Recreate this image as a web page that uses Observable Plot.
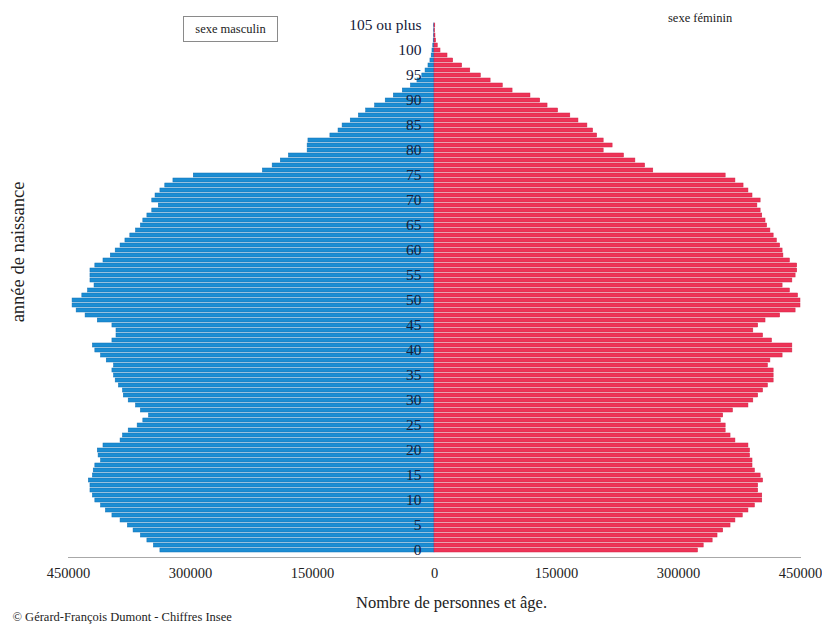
<!DOCTYPE html>
<html>
<head>
<meta charset="utf-8">
<script src="https://cdn.jsdelivr.net/npm/d3@7"></script>
<script src="https://cdn.jsdelivr.net/npm/@observablehq/plot@0.6"></script>
<style>
  html, body { margin: 0; padding: 0; background: #fff; }
  #wrap { position: relative; width: 822px; height: 625px; font-family: "Liberation Serif", "Times New Roman", serif; }
  .leg { position: absolute; font-size: 12.5px; color: #222; line-height: 1; }
  #legM { left: 183px; top: 16px; width: 93px; height: 24px; border: 1px solid #8a8a8a; display: flex; align-items: center; justify-content: center; }
  #legF { left: 668px; top: 12px; }
</style>
</head>
<body>
<div id="wrap">
  <div id="chart"></div>
  <div class="leg" id="legM">sexe masculin</div>
  <div class="leg" id="legF">sexe féminin</div>
</div>
<script>
// Ages 0 .. 105 (105 = "105 ou plus")
const ages = d3.range(0, 106);

// Males, persons per age
const male = [
  337000, 345000, 353000, 361000, 370000, 377000, 386000, 396000, 404000, 410000,
  417000, 420000, 423000, 423000, 425000, 420000, 419000, 417000, 410000, 413000,
  414000, 407000, 386000, 383000, 376000, 365000, 358000, 351000, 361000, 367000,
  376000, 382000, 383000, 388000, 392000, 394000, 396000, 394000, 403000, 410000,
  417000, 420000, 396000, 391000, 391000, 396000, 414000, 429000, 440000, 445000,
  445000, 433000, 426000, 418000, 423000, 423000, 423000, 417000, 407000, 398000,
  392000, 386000, 380000, 374000, 367000, 361000, 358000, 353000, 347000, 339000,
  347000, 343000, 337000, 331000, 321000, 296000, 211000, 199000, 189000, 179000,
  156000, 156000, 155000, 128000, 118000, 113000, 103000, 93000, 84000, 73000,
  60000, 50000, 39000, 29000, 21000, 15000, 11000, 7400, 5000, 3500,
  2500, 1500, 1000, 600, 400, 500
];

// Females, persons per age
const female = [
  324000, 331000, 342000, 348000, 355000, 364000, 370000, 379000, 386000, 394000,
  403000, 403000, 398000, 398000, 404000, 401000, 394000, 391000, 391000, 388000,
  388000, 386000, 370000, 364000, 358000, 358000, 352000, 355000, 367000, 386000,
  392000, 398000, 404000, 410000, 417000, 417000, 417000, 410000, 413000, 428000,
  440000, 440000, 415000, 404000, 392000, 398000, 407000, 425000, 444000, 450000,
  450000, 447000, 437000, 428000, 440000, 444000, 446000, 446000, 437000, 429000,
  428000, 425000, 421000, 417000, 413000, 409000, 407000, 403000, 401000, 397000,
  401000, 391000, 386000, 380000, 370000, 358000, 269000, 259000, 247000, 233000,
  208000, 219000, 208000, 200000, 195000, 188000, 177000, 167000, 152000, 139000,
  130000, 118000, 96000, 84000, 69000, 57000, 44000, 34000, 23000, 16000,
  7400, 4000, 2000, 1200, 700, 1000
];

// Tick labels
const ageTicks = [0, 5, 10, 15, 20, 25, 30, 35, 40, 45, 50, 55, 60, 65, 70, 75, 80, 85, 90, 95, 100, 105];
const ageTickLabels = ["0", "5", "10", "15", "20", "25", "30", "35", "40", "45", "50", "55", "60", "65", "70", "75", "80", "85", "90", "95", "100", "105 ou plus"];
const xTicks = [-450000, -300000, -150000, 0, 150000, 300000, 450000];
const xTickLabels = ["450000", "300000", "150000", "0", "150000", "300000", "450000"];

const maleRows = ages.map((a, i) => ({age: a, v: -male[i]}));
const femaleRows = ages.map((a, i) => ({age: a, v: female[i]}));
const tickRows = ageTicks.map((a, i) => ({age: a, label: ageTickLabels[i]}));

const chart = Plot.plot({
  width: 822,
  height: 625,
  marginTop: 20,
  marginBottom: 70,
  marginLeft: 68,
  marginRight: 22,
  style: {fontFamily: "'Liberation Serif', 'Times New Roman', serif", background: "white", color: "#222"},
  x: {domain: [-450000, 450000], label: null},
  y: {type: "band", domain: ages.slice().reverse(), padding: 0.12, axis: null},
  marks: [
    Plot.barX(maleRows, {y: "age", x: "v", fill: "#1b8dd3", stroke: "#136fb3", strokeWidth: 0.5}),
    Plot.barX(femaleRows, {y: "age", x: "v", fill: "#ee3357", stroke: "#cf2747", strokeWidth: 0.5}),
    Plot.frame({anchor: "bottom", stroke: "#a8a8a8", dy: 2}),
    Plot.axisX({ticks: xTicks, tickFormat: (d) => xTickLabels[xTicks.indexOf(d)], tickSize: 0, tickPadding: 12, fontSize: 14.5, fill: "#222"}),
    Plot.text(tickRows, {x: () => 0, y: "age", text: "label", textAnchor: "end", dx: -13, fontSize: 15.5, fill: "#16203a"}),
    Plot.text(["Nombre de personnes et âge."], {frameAnchor: "bottom", dy: 52, dx: 17, fontSize: 16.5, fill: "#222"}),
    Plot.text(["© Gérard-François Dumont - Chiffres Insee"], {frameAnchor: "bottom-left", textAnchor: "start", dx: -56, dy: 65, fontSize: 12.5, fill: "#222"}),
    Plot.text(["année de naissance"], {frameAnchor: "left", textAnchor: "middle", rotate: -90, dx: -50, dy: -36, fontSize: 18.5, fill: "#222"})
  ]
});
document.getElementById("chart").appendChild(chart);
</script>
</body>
</html>
